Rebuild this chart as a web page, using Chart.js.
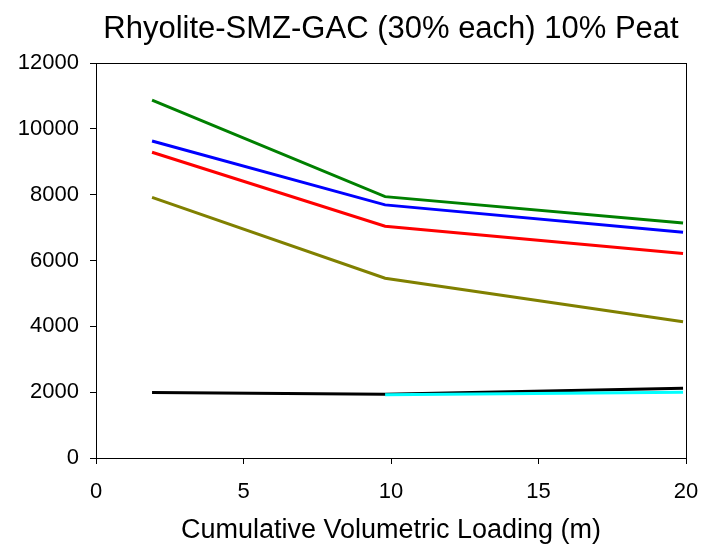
<!DOCTYPE html>
<html>
<head>
<meta charset="utf-8">
<script src="https://cdn.jsdelivr.net/npm/chart.js@4/dist/chart.umd.min.js"></script>
<style>
    html, body { margin: 0; padding: 0; background: #fff; }
    #wrap { width: 704px; height: 551px; }
</style>
</head>
<body>
<div id="wrap"><canvas id="peatChart" width="704" height="551"></canvas></div>
<script>
// Loading positions (m)
const loading = [1.9, 9.8, 19.9];
const loadingLate = [9.8, 19.9];

// Series values
const greenVals = [10870, 7940, 7140];
const blueVals = [9630, 7690, 6860];
const redVals = [9290, 7040, 6210];
const oliveVals = [7920, 5460, 4140];
const cyanVals = [1920, 2000];
const blackVals = [1990, 1940, 2120];

// Axis ticks
const xTicks = [0, 5, 10, 15, 20];
const yTicks = [0, 2000, 4000, 6000, 8000, 10000, 12000];

const titleText = 'Rhyolite-SMZ-GAC (30% each) 10% Peat';
const fontFamily = '"Liberation Sans", Arial, sans-serif';

function pts(xs, ys) {
    return xs.map((x, i) => ({ x: x, y: ys[i] }));
}

function lineSet(label, xs, ys, color) {
    return {
        label: label,
        data: pts(xs, ys),
        borderColor: color,
        backgroundColor: color,
        borderWidth: 3,
        pointRadius: 0,
        showLine: true,
        tension: 0
    };
}

// Title centred over the plot, plus the frame around it
const framePlugin = {
    id: 'frame',
    afterDraw(chart) {
        const { ctx, chartArea } = chart;
        ctx.save();
        ctx.strokeStyle = '#000';
        ctx.lineWidth = 1;
        ctx.strokeRect(chartArea.left + 0.5, chartArea.top + 0.5,
            chartArea.right - chartArea.left, chartArea.bottom - chartArea.top);
        ctx.fillStyle = '#000';
        ctx.font = '31px ' + fontFamily;
        ctx.textAlign = 'center';
        ctx.textBaseline = 'alphabetic';
        ctx.fillText(titleText, (chartArea.left + chartArea.right) / 2, 38);
        ctx.restore();
    }
};

const ctx = document.getElementById('peatChart').getContext('2d');
new Chart(ctx, {
    type: 'scatter',
    data: {
        datasets: [
            lineSet('Cyan', loadingLate, cyanVals, '#00ffff'),
            lineSet('Black', loading, blackVals, '#000000'),
            lineSet('Green', loading, greenVals, '#008000'),
            lineSet('Blue', loading, blueVals, '#0000ff'),
            lineSet('Red', loading, redVals, '#ff0000'),
            lineSet('Olive', loading, oliveVals, '#808000')
        ]
    },
    options: {
        responsive: false,
        animation: false,
        layout: { padding: { top: 63, right: 18, bottom: 0, left: 0 } },
        plugins: {
            legend: { display: false },
            tooltip: { enabled: false },
            title: { display: false }
        },
        scales: {
            x: {
                type: 'linear',
                min: 0,
                max: 20,
                afterBuildTicks: axis => { axis.ticks = xTicks.map(v => ({ value: v })); },
                afterFit: axis => {
                    axis.paddingLeft = 0;
                    axis.paddingRight = 0;
                    axis.height = 93;
                },
                grid: { drawOnChartArea: false, drawTicks: true, tickLength: 6, color: '#000' },
                border: { display: true, color: '#000', width: 1 },
                ticks: { color: '#000', font: { family: fontFamily, size: 22 }, padding: 15 },
                title: {
                    display: true,
                    text: 'Cumulative Volumetric Loading (m)',
                    color: '#000',
                    font: { family: fontFamily, size: 27 },
                    padding: { top: 0, bottom: 4 }
                }
            },
            y: {
                min: 0,
                max: 12000,
                afterBuildTicks: axis => { axis.ticks = yTicks.map(v => ({ value: v })); },
                afterFit: axis => { axis.width = 96; },
                grid: { drawOnChartArea: false, drawTicks: true, tickLength: 6, color: '#000' },
                border: { display: true, color: '#000', width: 1 },
                ticks: {
                    color: '#000',
                    font: { family: fontFamily, size: 22 },
                    padding: 11,
                    callback: v => String(v)
                }
            }
        }
    },
    plugins: [framePlugin]
});
</script>
</body>
</html>
